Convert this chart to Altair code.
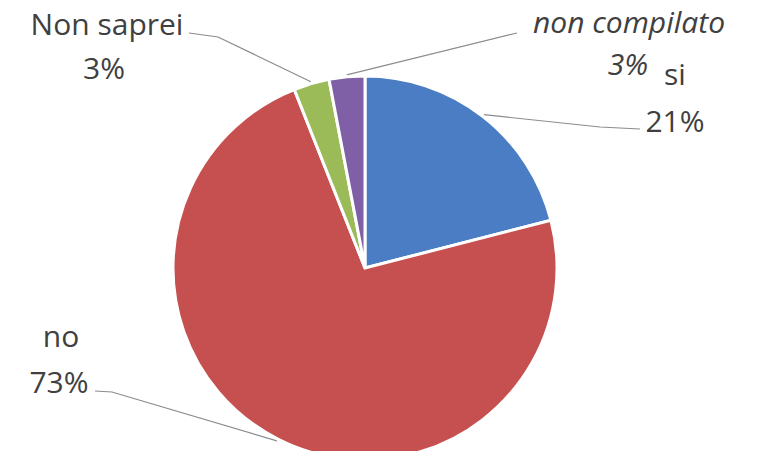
import math
import altair as alt
import pandas as pd

# ---- data ----
categories = ["si", "no", "Non saprei", "non compilato"]
values = [21, 73, 3, 3]
colors = ["#4A7DC4", "#C65050", "#9BBB59", "#7F5FA6"]

# ---- layout (pixels in chart space) ----
W, H = 743, 443
CX, CY, R = 357, 260, 192
label_names = ["Non saprei", "3%", "non compilato", "3%", "si", "21%", "no", "73%"]
label_x = [99, 96, 621, 620, 667, 667, 53, 51]
label_y = [27, 71, 25, 67, 77, 124, 339, 385]
label_italic = [False, False, True, True, False, False, False, False]
# leader line start points (near labels) per category
leader_start = {
    "Non saprei": [(181, 25), (210, 29)],
    "non compilato": [(509, 25)],
    "si": [(632, 121), (592, 119)],
    "no": [(87, 383), (104, 384)],
}

pie_df = pd.DataFrame({"cat": categories, "val": values, "idx": list(range(len(categories)))})

# leader endpoints derived from slice mid angles
total = sum(values)
cum = 0
rows = []
for c, v in zip(categories, values):
    mid = (cum + v / 2) / total * 2 * math.pi
    cum += v
    ex = CX + (R + 2) * math.sin(mid)
    ey = CY - (R + 2) * math.cos(mid)
    pts = leader_start[c] + [(ex, ey)]
    for k, (px, py) in enumerate(pts):
        rows.append({"cat": c, "k": k, "x": px, "y": py})
lines_df = pd.DataFrame(rows)

lab_df = pd.DataFrame({"t": label_names, "x": label_x, "y": label_y, "it": label_italic})

xs = alt.Scale(domain=[0, W], range=[0, W])
ys = alt.Scale(domain=[0, H], range=[0, H])

pie = alt.Chart(pie_df).mark_arc(radius=R, stroke="white", strokeWidth=3).encode(
    theta=alt.Theta("val:Q", stack=True),
    order=alt.Order("idx:Q"),
    color=alt.Color("cat:N", scale=alt.Scale(domain=categories, range=colors), legend=None),
    x=alt.value(CX),
    y=alt.value(CY),
)

leaders = alt.Chart(lines_df).mark_line(color="#8C8C8C", strokeWidth=1.2).encode(
    x=alt.X("x:Q", scale=xs, axis=None),
    y=alt.Y("y:Q", scale=ys, axis=None),
    detail="cat:N",
    order="k:Q",
)

txt_common = dict(font="Open Sans", fontSize=30, color="#404040", align="center", baseline="alphabetic")
texts_n = alt.Chart(lab_df).transform_filter("!datum.it").mark_text(**txt_common).encode(
    x=alt.X("x:Q", scale=xs, axis=None),
    y=alt.Y("y:Q", scale=ys, axis=None),
    text="t:N",
)
texts_i = alt.Chart(lab_df).transform_filter("datum.it").mark_text(fontStyle="italic", **txt_common).encode(
    x=alt.X("x:Q", scale=xs, axis=None),
    y=alt.Y("y:Q", scale=ys, axis=None),
    text="t:N",
)

chart = alt.layer(leaders, pie, texts_n, texts_i).properties(
    width=W, height=H, padding=0, autosize=alt.AutoSizeParams(type="none")
).configure_view(stroke=None)

chart.save("out.html", embed_options={"renderer": "svg", "actions": False})
